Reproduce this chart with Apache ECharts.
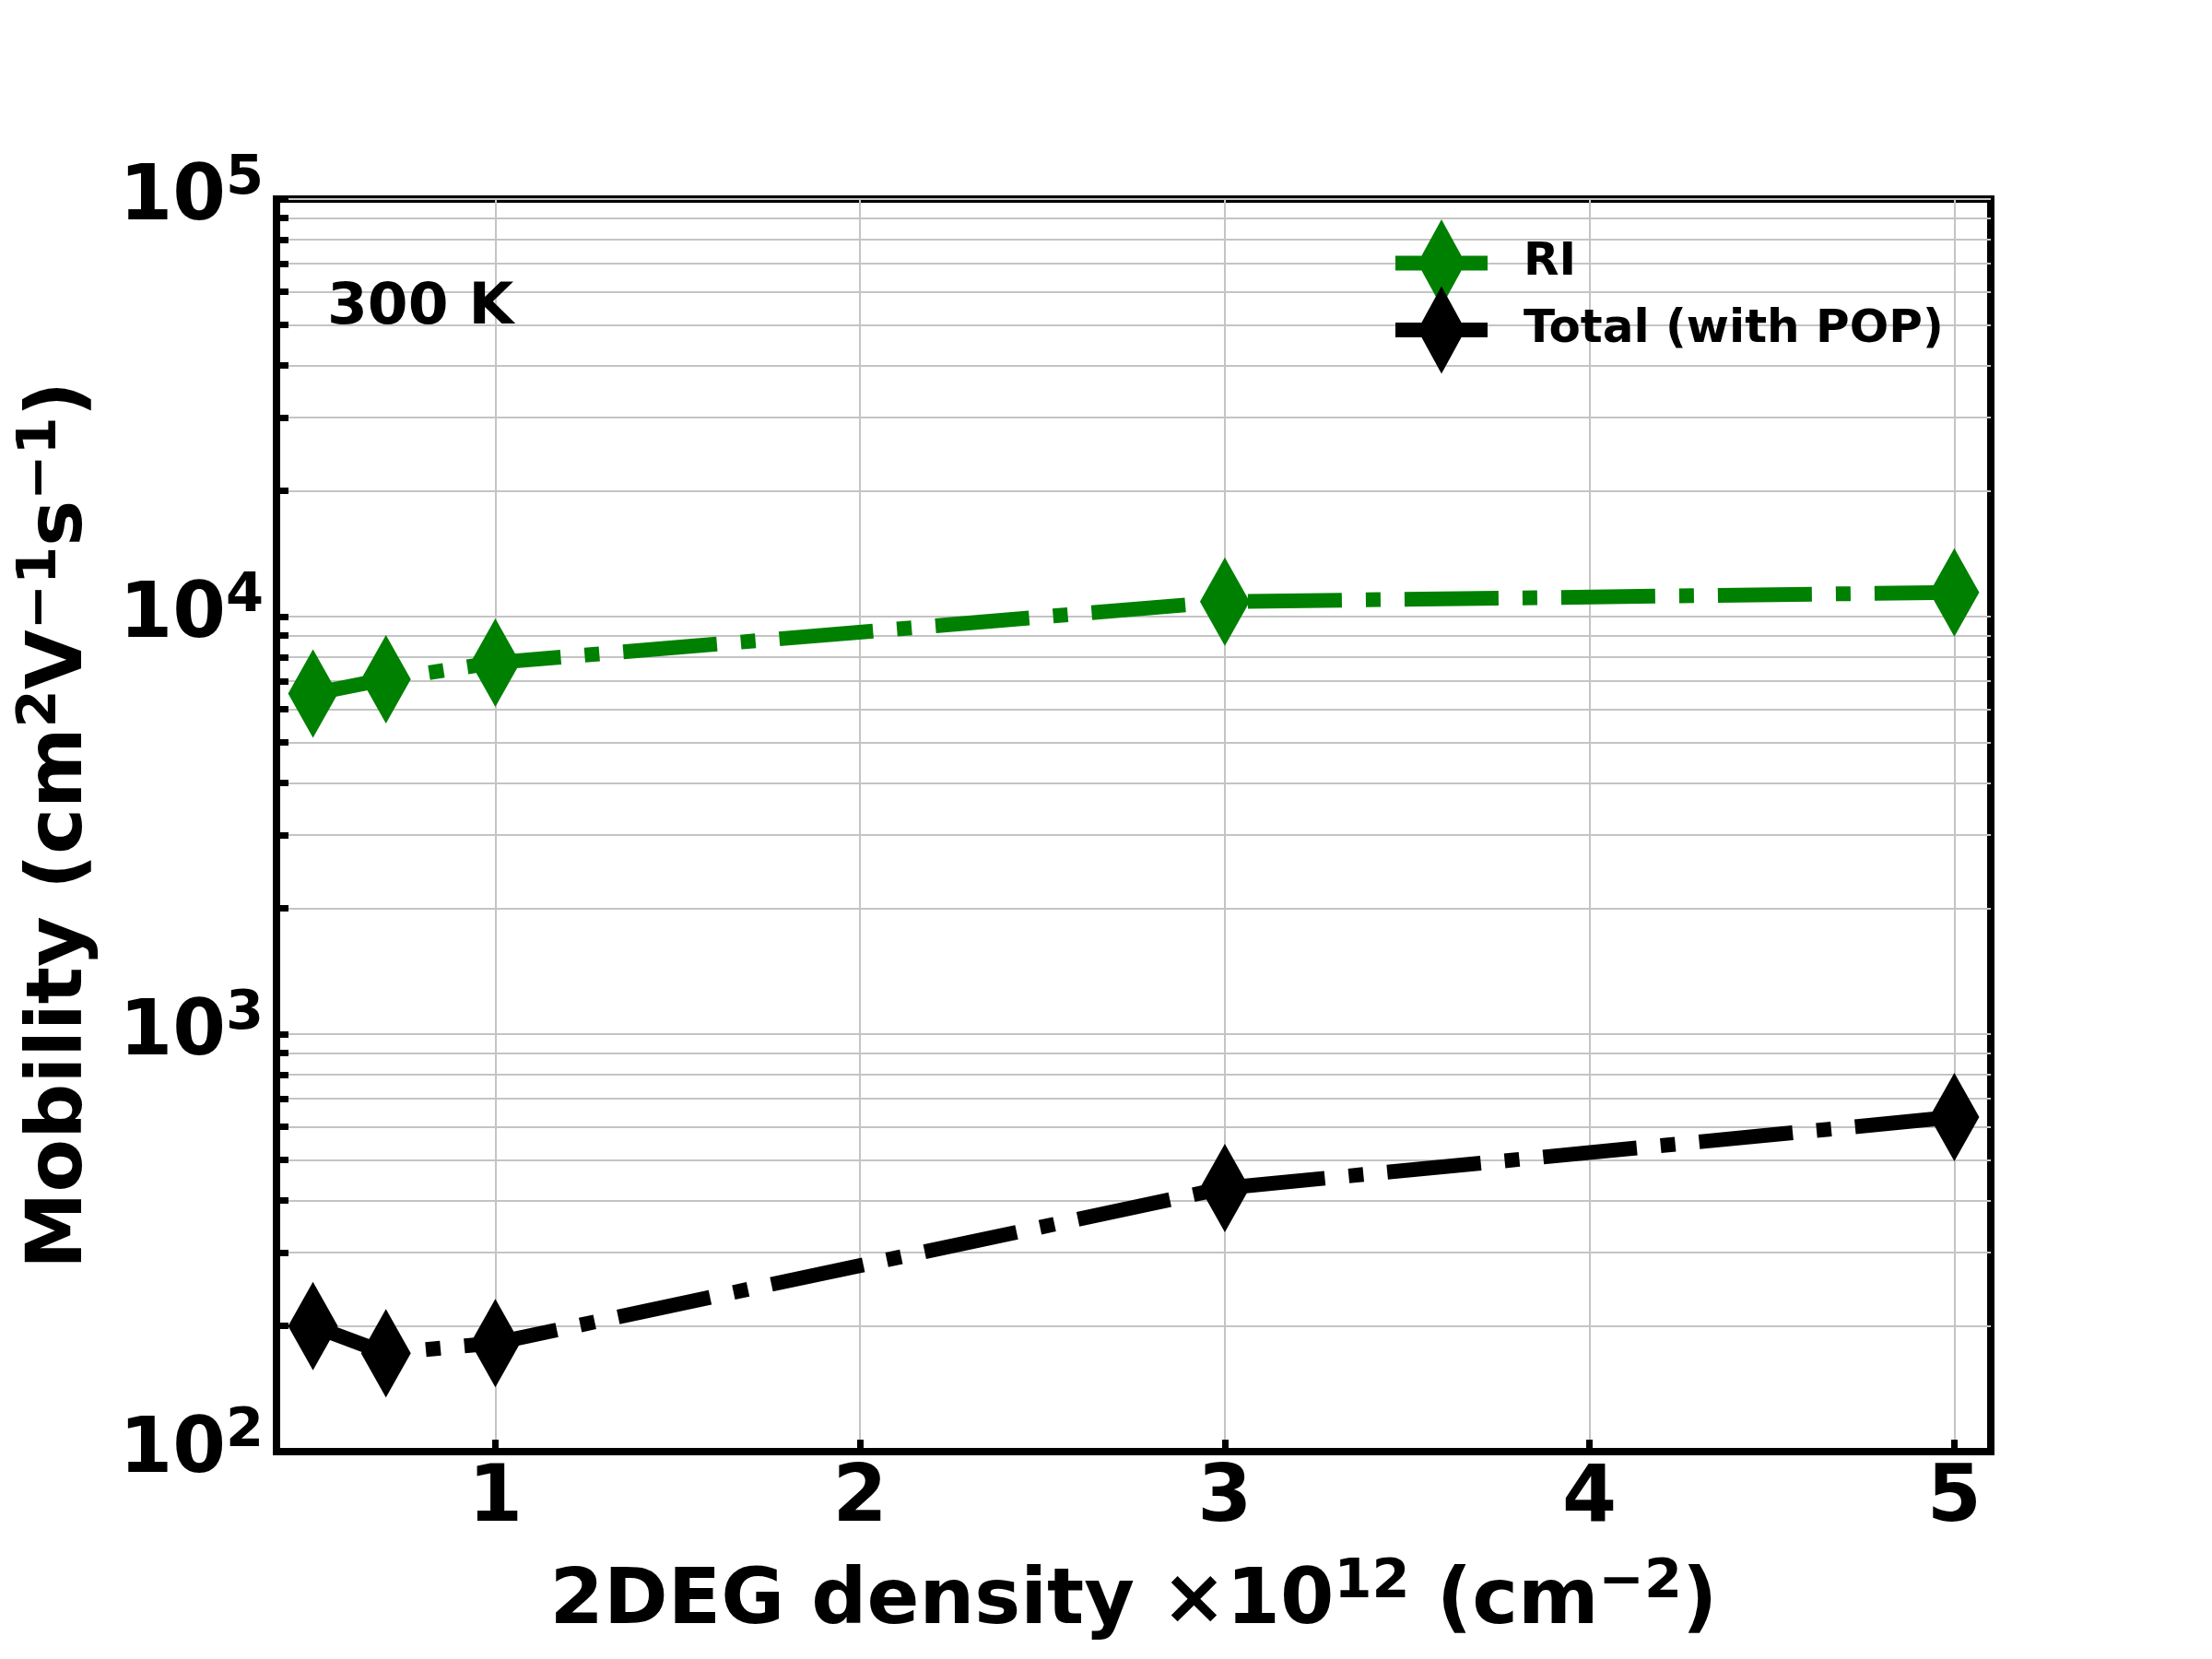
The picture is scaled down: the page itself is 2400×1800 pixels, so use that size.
<!DOCTYPE html>
<html><head><meta charset="utf-8">
<script src="https://cdn.jsdelivr.net/npm/echarts@6/dist/echarts.min.js"></script>
<style>html,body{margin:0;padding:0;background:#fff}#c{width:2400px;height:1800px}</style>
</head><body><div id="c"></div>
<script>
// ---- data ----
const densities = [0.5, 0.7, 1, 3, 5];
const mobilityRI = [6540, 7080, 7760, 10860, 11430];
const mobilityTotal = [200, 172, 182, 428, 633];
const seriesNames = ['RI', 'Total (with POP)'];
const xTickValues = [1, 2, 3, 4, 5];
const yMinorTicks = [200, 300, 400, 500, 600, 700, 800, 900,
  2000, 3000, 4000, 5000, 6000, 7000, 8000, 9000,
  20000, 30000, 40000, 50000, 60000, 70000, 80000, 90000];
const annotationText = '300 K';
const xTitle = '2DEG density ×10{s|12} (cm{s|−2})';
const yTitle = 'Mobility (cm{s|2}V{s|−1}s{s|−1})';

const FF = 'DejaVu Sans';
// legend handle: thick line segment with a thin diamond on it
const legendIcon = 'path://M0,39.5L100,39.5L100,55.5L0,55.5Z M50,0L76,47.5L50,95L24,47.5Z';
const gridColor = '#c4c4c4';
const supStyle = {fontFamily: FF, fontWeight: 'bold', fontSize: 59, color: '#000', padding: [0, 0, 43, 0]};

const chart = echarts.init(document.getElementById('c'), null, {renderer: 'canvas'});
const mk = (ys) => densities.map((x, i) => [x, ys[i]]);

chart.setOption({
  animation: false,
  backgroundColor: '#fff',
  grid: {left: 300, right: 240, top: 216, bottom: 225, show: true, borderColor: '#000', borderWidth: 8, backgroundColor: 'transparent'},
  graphic: [{
    type: 'text', left: 355, top: 303, z: 100,
    style: {text: annotationText, fontFamily: FF, fontWeight: 'bold', fontSize: 63, fill: '#000'}
  }],
  legend: {
    left: 1509, top: 233, orient: 'vertical', itemWidth: 100, itemHeight: 95, itemGap: -22.5,
    selectedMode: false,
    data: seriesNames.map(n => ({name: n, icon: legendIcon})),
    textStyle: {fontFamily: FF, fontWeight: 'bold', fontSize: 50, color: '#000', padding: [0, 0, 0, 34]}
  },
  xAxis: {
    type: 'value', min: 0.4, max: 5.1,
    name: xTitle, nameLocation: 'middle', nameGap: 113,
    nameTextStyle: {fontFamily: FF, fontWeight: 'bold', fontSize: 84, color: '#000', rich: {s: supStyle}},
    axisLine: {show: true, lineStyle: {color: '#000', width: 8}},
    axisTick: {show: true, inside: true, length: 13, lineStyle: {color: '#000', width: 7}, customValues: xTickValues},
    axisLabel: {customValues: xTickValues, margin: 10, fontFamily: FF, fontWeight: 'bold', fontSize: 85, color: '#000'},
    splitLine: {show: true, lineStyle: {color: gridColor, width: 2}}
  },
  yAxis: [{
    type: 'log', logBase: 10, min: 100, max: 100000,
    name: yTitle, nameLocation: 'middle', nameGap: 183, nameRotate: 90,
    nameTextStyle: {fontFamily: FF, fontWeight: 'bold', fontSize: 84, color: '#000', rich: {s: supStyle}},
    axisLine: {show: true, lineStyle: {color: '#000', width: 8}},
    axisTick: {show: true, inside: true, length: 13, lineStyle: {color: '#000', width: 7}},
    axisLabel: {
      margin: 14,
      formatter: v => '{b|10}{s|' + Math.round(Math.log10(v)) + '}',
      rich: {
        b: {fontFamily: FF, fontWeight: 'bold', fontSize: 83, color: '#000'},
        s: supStyle
      }
    },
    splitLine: {show: true, lineStyle: {color: gridColor, width: 2}}
  }, {
    type: 'log', logBase: 10, min: 100, max: 100000, position: 'left',
    axisLine: {show: false},
    axisLabel: {show: false},
    axisTick: {show: true, inside: true, length: 13, lineStyle: {color: '#000', width: 7}, customValues: yMinorTicks},
    splitLine: {show: true, lineStyle: {color: gridColor, width: 2}}
  }],
  series: [{
    name: seriesNames[0], type: 'line', data: mk(mobilityRI), yAxisIndex: 0,
    symbol: 'diamond', symbolSize: [54, 96],
    lineStyle: {color: '#008000', width: 16, type: [102, 26, 16, 26]},
    itemStyle: {color: '#008000'}, z: 5
  }, {
    name: seriesNames[1], type: 'line', data: mk(mobilityTotal), yAxisIndex: 0,
    symbol: 'diamond', symbolSize: [54, 96],
    lineStyle: {color: '#000', width: 16, type: [102, 26, 16, 26]},
    itemStyle: {color: '#000'}, z: 6
  }]
});
</script></body></html>
